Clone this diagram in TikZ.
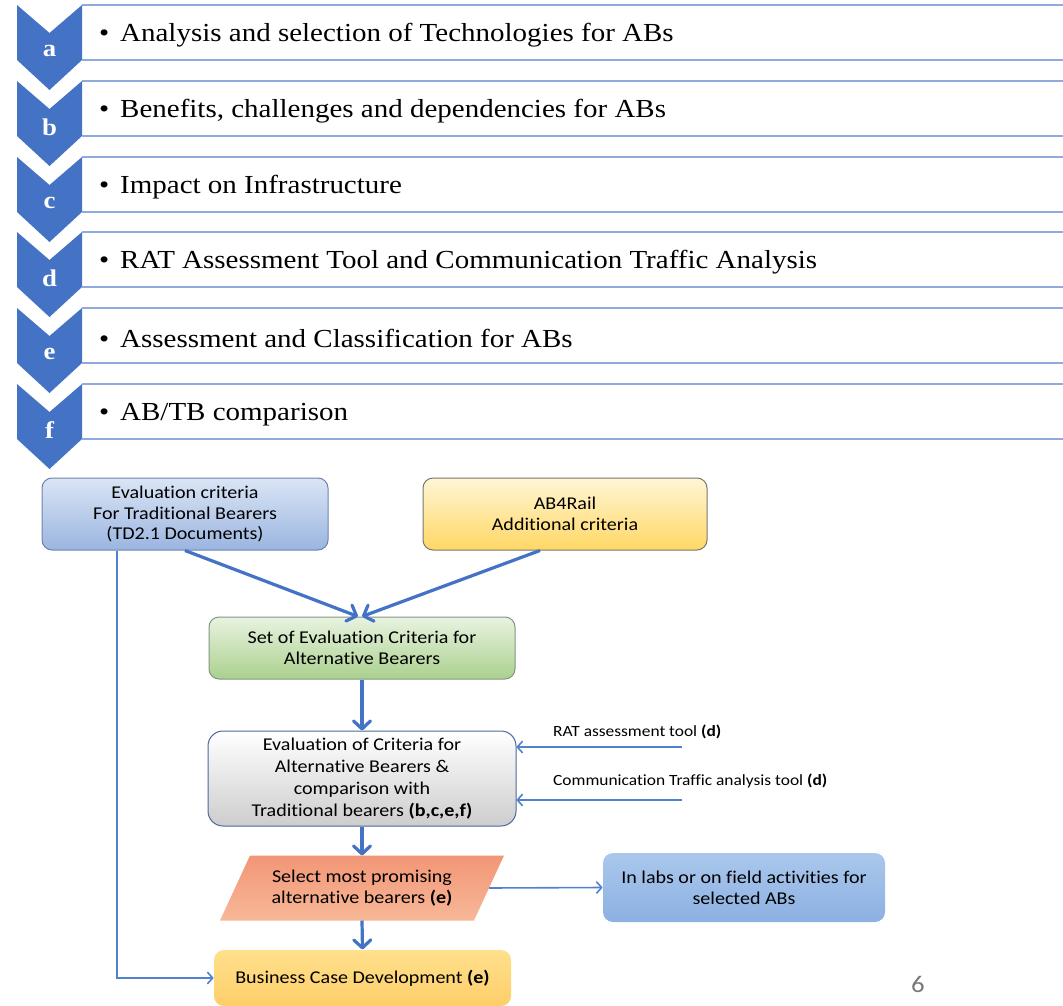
\documentclass[tikz,border=0pt]{standalone}
\usepackage{fontspec}
\setmainfont{Liberation Serif}[FakeStretch=1.115]
\newfontfamily\flowfont{Carlito}[FakeStretch=1.115,Ligatures=CommonOff]
\usetikzlibrary{arrows.meta,backgrounds}
\definecolor{chevblue}{HTML}{4472C4}
\definecolor{rulecol}{HTML}{8FAADC}
\definecolor{linkblue}{HTML}{5082D0}
\definecolor{tradedge}{HTML}{6F84AA}
\begin{document}
\begin{tikzpicture}[x=1pt,y=-1pt,
  chevron/.style={fill=chevblue},
  boxrule/.style={draw=rulecol,line width=2pt},
  itemtext/.style={anchor=west,inner sep=0pt,font=\fontsize{26}{30}\selectfont},
  letter/.style={text=white,font=\fontsize{24}{28}\selectfont\bfseries},
  fbox/.style={rounded corners=10pt,align=center,inner sep=2pt,line width=1pt,
    font=\flowfont\fontsize{18}{20.8}\selectfont},
  bigarrow/.style={draw=chevblue,line width=3.2pt,
    -{Straight Barb[length=8pt,width=17pt,line width=3.2pt,round]}},
  smallarrow/.style={draw=linkblue,line width=1.6pt,
    -{Straight Barb[length=5pt,width=11pt,line width=1.6pt,round]}},
  sidelabel/.style={anchor=west,inner sep=0pt,font=\flowfont\fontsize{15.6}{18}\selectfont}]
\useasboundingbox (0,0) rectangle (1063,1006);

% work items a--f: chevron, framed band and bullet text
\foreach \t/\b/\l/\txt in {
  5/60/a/{Analysis and selection of Technologies for ABs},
  81/136/b/{Benefits, challenges and dependencies for ABs},
  157/212/c/{Impact on Infrastructure},
  232/287/d/{RAT Assessment Tool and Communication Traffic Analysis},
  308/363/e/{Assessment and Classification for ABs},
  384/439/f/{AB/TB comparison}}{
  \fill[chevron] (17,\t) -- ({49.5},{\t+28}) -- (82,\t) -- (82,\b)
    -- ({49.5},{\b+30}) -- (17,\b) -- cycle;
  \draw[boxrule] (82,\t) -- (1063,\t);
  \draw[boxrule] (82,\b) -- (1063,\b);
  \node[letter] (tag-\l) at ({49.5},{\t+46}) {\l};
  \node[itemtext] (item-\l) at (99,{(\t+\b)/2+3}) {\makebox[21pt][l]{•}\txt};
}

% flowchart
\node[fbox,draw=tradedge,top color={rgb,255:red,218;green,229;blue,245},
  bottom color={rgb,255:red,155;green,181;blue,224},
  minimum width=286,minimum height=72] (trad) at (185,514)
  {Evaluation criteria\\For Traditional Bearers\\(TD2.1 Documents)};
\node[fbox,draw={rgb,255:red,120;green,120;blue,110},
  top color={rgb,255:red,255;green,246;blue,214},
  bottom color={rgb,255:red,255;green,215;blue,100},
  minimum width=284,minimum height=72] (extra) at (565,514)
  {AB4Rail\\Additional criteria};
\node[fbox,draw={rgb,255:red,130;green,150;blue,130},
  top color={rgb,255:red,232;green,243;blue,224},
  bottom color={rgb,255:red,170;green,208;blue,142},
  minimum width=306,minimum height=62] (set) at (362,648)
  {Set of Evaluation Criteria for\\Alternative Bearers};
\node[fbox,rounded corners=15pt,draw={rgb,255:red,75;green,105;blue,155},
  top color=white,bottom color={rgb,255:red,205;green,205;blue,205},
  minimum width=308,minimum height=95,
  font=\flowfont\fontsize{18}{21.8}\selectfont] (eval) at (362,778.5)
  {Evaluation of Criteria for\\Alternative Bearers \&\\comparison with\\
   Traditional bearers \textbf{(b,c,e,f)}};
\node[fbox,minimum width=253,minimum height=64] (sel) at (362,888)
  {Select most promising\\alternative bearers \textbf{(e)}};
\node[fbox,top color={rgb,255:red,170;green,200;blue,236},
  bottom color={rgb,255:red,140;green,176;blue,226},
  minimum width=282,minimum height=69] (lab) at (744,887.5)
  {In labs or on field activities for\\selected ABs};
\node[fbox,top color={rgb,255:red,255;green,224;blue,140},
  bottom color={rgb,255:red,253;green,206;blue,105},
  minimum width=297,minimum height=56] (bcd) at (362.5,978)
  {Business Case Development \textbf{(e)}};

% white page and the slanted selection shape, kept behind everything
\begin{scope}[on background layer]
  \fill[white] (0,0) rectangle (1063,1006);
  \shade[top color={rgb,255:red,242;green,150;blue,118},
    bottom color={rgb,255:red,247;green,184;blue,152}]
    ([xshift=15pt]sel.north west) -- ([xshift=15pt]sel.north east)
    -- ([xshift=-15pt]sel.south east) -- ([xshift=-15pt]sel.south west) -- cycle;
\end{scope}

% side inputs
\node[sidelabel] (ratlabel) at (553,732) {RAT assessment tool \textbf{(d)}};
\node[sidelabel] (commlabel) at (553,781) {Communication Traffic analysis tool \textbf{(d)}};
\coordinate (ratsrc) at (682,747);
\coordinate (commsrc) at (682,800);

% page number
\node[font=\flowfont\fontsize{24}{28}\selectfont,text={rgb,255:red,120;green,120;blue,120}]
  (pagenum) at (918,984) {6};

% connectors
\draw[bigarrow] (trad.south) -- ([xshift=-4pt]set.north);
\draw[bigarrow] ([xshift=-25pt]extra.south) -- ([xshift=0pt]set.north);
\draw[bigarrow] (set.south) -- (eval.north);
\draw[bigarrow] (eval.south) -- (sel.north);
\draw[bigarrow] (sel.south) -- (bcd.north);
\draw[smallarrow] (ratsrc) -- (eval.east |- ratsrc);
\draw[smallarrow] (commsrc) -- (eval.east |- commsrc);
\draw[smallarrow] (sel.east) -- (lab.west);
\draw[smallarrow] ([xshift=-68pt]trad.south) |- (bcd.west);
\end{tikzpicture}
\end{document}
